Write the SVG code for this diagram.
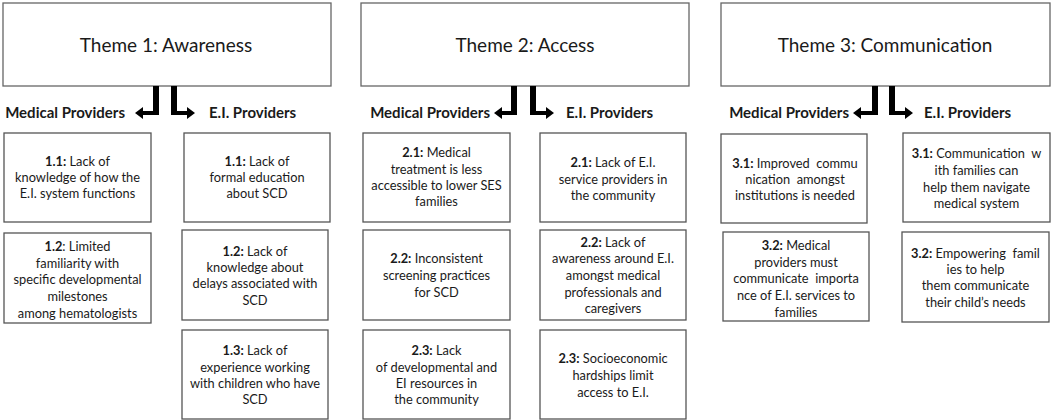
<svg xmlns="http://www.w3.org/2000/svg" width="1053" height="420" viewBox="0 0 1053 420">
<style>
.theme{fill:#fff;stroke:#666;stroke-width:1.3}
.box{fill:#fff;stroke:#555;stroke-width:1.3}
.tt{font-family:Lato,"Open Sans","Liberation Sans",sans-serif;font-size:19px;fill:#1a1a1a;text-anchor:middle}
.hd{font-family:Lato,"Open Sans","Liberation Sans",sans-serif;font-size:15px;font-weight:bold;fill:#1a1a1a}
.bt{font-family:Lato,"Open Sans","Liberation Sans",sans-serif;font-size:12.8px;fill:#1a1a1a;text-anchor:middle;white-space:pre}
.bt tspan.b{font-weight:bold}
.arr{fill:#000}
</style>
<rect width="1053" height="420" fill="#fff"/>

<g id="theme1"><rect class="theme" x="3" y="3" width="328" height="83"/><text class="tt" x="166" y="52">Theme 1: Awareness</text></g>
<g id="theme2"><rect class="theme" x="361" y="3" width="328" height="83"/><text class="tt" x="525" y="52">Theme 2: Access</text></g>
<g id="theme3"><rect class="theme" x="721" y="3" width="329" height="83"/><text class="tt" x="885" y="52">Theme 3: Communication</text></g>

<g id="headers">
<text class="hd" x="125" y="118" text-anchor="end">Medical Providers</text>
<text class="hd" x="209" y="118">E.I. Providers</text>
<text class="hd" x="490" y="118" text-anchor="end">Medical Providers</text>
<text class="hd" x="566" y="118">E.I. Providers</text>
<text class="hd" x="849" y="118" text-anchor="end">Medical Providers</text>
<text class="hd" x="924" y="118">E.I. Providers</text>
</g>

<g id="connectors">
<path class="arr" d="M153,86 H159 V115 H143 V119 L135,113 L143,107 V111 H153 Z"/>
<path class="arr" d="M171,86 H177 V111 H187 V107 L195,113 L187,119 V115 H171 Z"/>
<path class="arr" d="M511,86 H517 V115 H502 V119 L494,113 L502,107 V111 H511 Z"/>
<path class="arr" d="M530,86 H536 V111 H546 V107 L554,113 L546,119 V115 H530 Z"/>
<path class="arr" d="M872,86 H878 V115 H861 V119 L853,113 L861,107 V111 H872 Z"/>
<path class="arr" d="M889,86 H895 V111 H905 V107 L913,113 L905,119 V115 H889 Z"/>
</g>

<g id="m1-1"><rect class="box" x="4" y="133" width="147" height="89"/>
<text class="bt"><tspan x="77.5" y="166"><tspan class="b">1.1:</tspan> Lack of</tspan><tspan x="77.5" y="182">knowledge of how the</tspan><tspan x="77.5" y="198">E.I. system functions</tspan></text></g>
<g id="m1-2"><rect class="box" x="4" y="233" width="147" height="90"/>
<text class="bt"><tspan x="77.5" y="251"><tspan class="b">1.2</tspan>: Limited</tspan><tspan x="77.5" y="267.7">familiarity with</tspan><tspan x="77.5" y="284">specific developmental</tspan><tspan x="77.5" y="301">milestones</tspan><tspan x="77.5" y="317.7">among hematologists</tspan></text></g>
<g id="e1-1"><rect class="box" x="184" y="133" width="146" height="89"/>
<text class="bt"><tspan x="257" y="166"><tspan class="b">1.1:</tspan> Lack of</tspan><tspan x="257" y="182">formal education</tspan><tspan x="257" y="198">about SCD</tspan></text></g>
<g id="e1-2"><rect class="box" x="182" y="230" width="146" height="90"/>
<text class="bt"><tspan x="255" y="255.7"><tspan class="b">1.2:</tspan> Lack of</tspan><tspan x="255" y="272">knowledge about</tspan><tspan x="255" y="288.3">delays associated with</tspan><tspan x="255" y="305">SCD</tspan></text></g>
<g id="e1-3"><rect class="box" x="182" y="330" width="146" height="89"/>
<text class="bt"><tspan x="255" y="355"><tspan class="b">1.3:</tspan> Lack of</tspan><tspan x="255" y="371.7">experience working</tspan><tspan x="255" y="388.3">with children who have</tspan><tspan x="255" y="404.3">SCD</tspan></text></g>

<g id="m2-1"><rect class="box" x="363" y="133" width="147" height="89"/>
<text class="bt"><tspan x="436.5" y="157.3"><tspan class="b">2.1:</tspan> Medical</tspan><tspan x="436.5" y="174">treatment is less</tspan><tspan x="436.5" y="190">accessible to lower SES</tspan><tspan x="436.5" y="206">families</tspan></text></g>
<g id="m2-2"><rect class="box" x="363" y="230" width="147" height="90"/>
<text class="bt"><tspan x="436.5" y="263.3"><tspan class="b">2.2:</tspan> Inconsistent</tspan><tspan x="436.5" y="280">screening practices</tspan><tspan x="436.5" y="296.7">for SCD</tspan></text></g>
<g id="m2-3"><rect class="box" x="363" y="330" width="147" height="89"/>
<text class="bt"><tspan x="436.5" y="355"><tspan class="b">2.3:</tspan> Lack</tspan><tspan x="436.5" y="371.7">of developmental and</tspan><tspan x="436.5" y="387.7">EI resources in</tspan><tspan x="436.5" y="404.3">the community</tspan></text></g>
<g id="e2-1"><rect class="box" x="540" y="133" width="146" height="89"/>
<text class="bt"><tspan x="613" y="167.3"><tspan class="b">2.1:</tspan> Lack of E.I.</tspan><tspan x="613" y="184">service providers in</tspan><tspan x="613" y="200">the community</tspan></text></g>
<g id="e2-2"><rect class="box" x="540" y="230" width="146" height="90"/>
<text class="bt"><tspan x="613" y="246.7"><tspan class="b">2.2:</tspan> Lack of</tspan><tspan x="613" y="263.3">awareness around E.I.</tspan><tspan x="613" y="280">amongst medical</tspan><tspan x="613" y="296.7">professionals and</tspan><tspan x="613" y="312.7">caregivers</tspan></text></g>
<g id="e2-3"><rect class="box" x="540" y="330" width="146" height="89"/>
<text class="bt"><tspan x="613" y="363.3"><tspan class="b">2.3:</tspan> Socioeconomic</tspan><tspan x="613" y="380">hardships limit</tspan><tspan x="613" y="396.7">access to E.I.</tspan></text></g>

<g id="m3-1"><rect class="box" x="721" y="134" width="146" height="89"/>
<text class="bt"><tspan x="795" y="168.3"><tspan class="b">3.1:</tspan> Improved  commu</tspan><tspan x="795" y="184.3">nication  amongst</tspan><tspan x="795" y="200">institutions is needed</tspan></text></g>
<g id="m3-2"><rect class="box" x="723" y="232" width="146" height="89"/>
<text class="bt"><tspan x="796" y="250"><tspan class="b">3.2:</tspan> Medical</tspan><tspan x="796" y="266.7">providers must</tspan><tspan x="796" y="283.3">communicate  importa</tspan><tspan x="796" y="300">nce of E.I. services to</tspan><tspan x="796" y="316.7">families</tspan></text></g>
<g id="e3-1"><rect class="box" x="903" y="133" width="147" height="89"/>
<text class="bt"><tspan x="976.5" y="158.3"><tspan class="b">3.1:</tspan> Communication  w</tspan><tspan x="976.5" y="175">ith families can</tspan><tspan x="976.5" y="191.7">help them navigate</tspan><tspan x="976.5" y="207.7">medical system</tspan></text></g>
<g id="e3-2"><rect class="box" x="902" y="232" width="147" height="90"/>
<text class="bt"><tspan x="975.5" y="258.3"><tspan class="b">3.2:</tspan> Empowering  famil</tspan><tspan x="975.5" y="274.3">ies to help</tspan><tspan x="975.5" y="290">them communicate</tspan><tspan x="975.5" y="306.7">their child’s needs</tspan></text></g>
</svg>
